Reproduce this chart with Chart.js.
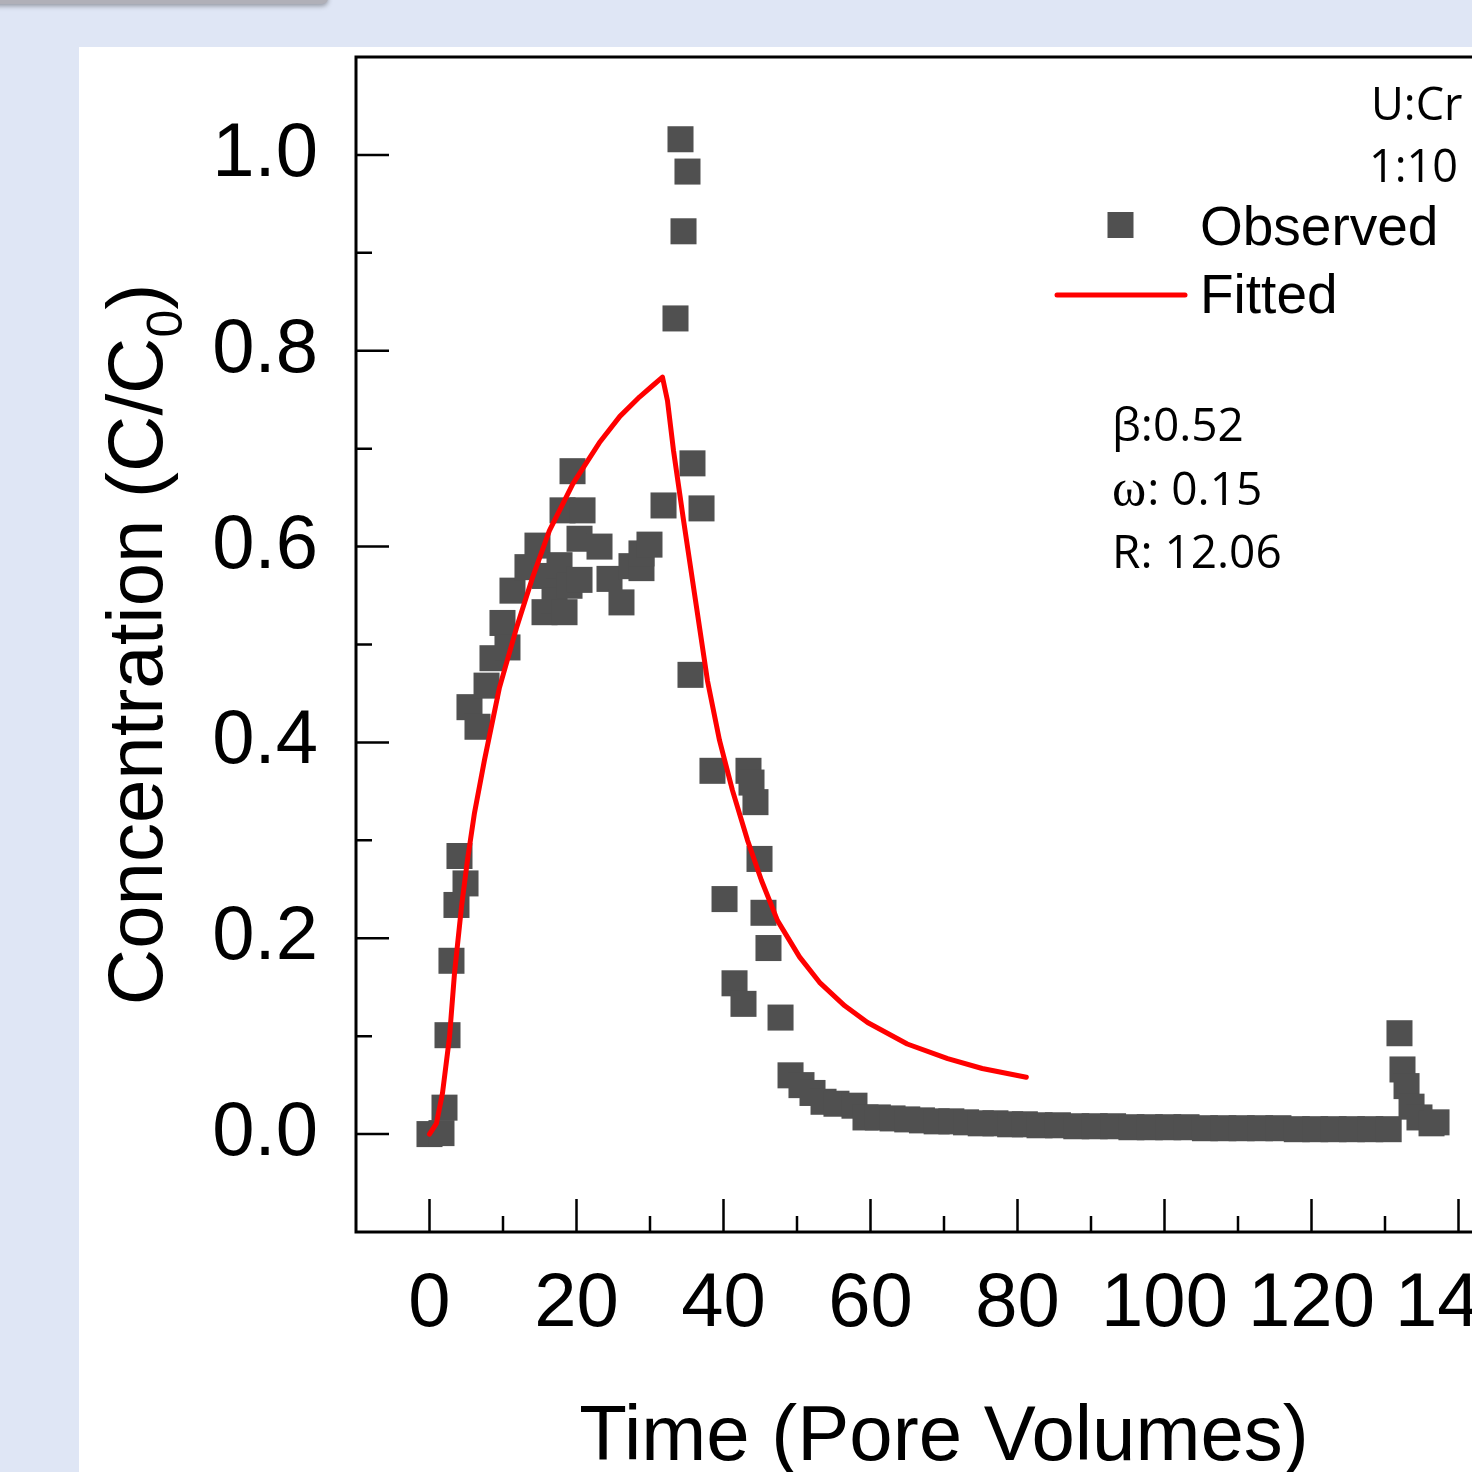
<!DOCTYPE html>
<html><head><meta charset="utf-8">
<script src="https://cdn.jsdelivr.net/npm/chart.js@4.4.0/dist/chart.umd.min.js"></script>
<style>
html,body{margin:0;padding:0;width:1472px;height:1472px;overflow:hidden;background:#dfe6f5;position:relative;}
#shadow{position:absolute;left:-10px;top:-8px;width:338px;height:12px;background:#b0b0b8;border-radius:0 0 6px 0;box-shadow:0 2px 5px rgba(0,0,0,0.35);}
#panel{position:absolute;left:79px;top:47px;width:1393px;height:1425px;background:#fff;}
#wrap{position:absolute;left:79px;top:47px;width:1500px;height:1425px;}
</style></head><body>
<div id="shadow"></div><div id="panel"></div>
<div id="wrap"><canvas id="c" width="1500" height="1425"></canvas></div>
<script>
// Observed data (pore volumes, C/C0)
const obsX = [0.0,1.63,2.04,2.45,2.99,3.67,4.08,4.90,5.44,6.53,7.76,8.57,9.93,10.61,11.29,13.33,14.69,15.65,15.65,17.01,17.69,18.10,18.37,19.05,19.46,20.41,20.41,20.82,23.13,24.49,26.12,27.48,28.84,28.84,29.93,31.84,33.47,34.15,34.56,35.10,35.51,35.78,37.01,38.50,40.14,41.50,42.72,43.40,43.81,44.35,44.90,45.44,46.12,47.76,49.12,50.61,52.11,53.61,55.37,57.82,59.32,61.0,63.0,65.0,67.0,69.0,71.0,73.0,75.0,77.0,79.0,81.0,83.0,85.5,88.0,90.5,93.0,95.5,98.0,100.5,103.0,105.5,108.0,110.5,113.0,115.5,118.0,120.5,123.0,125.5,128.0,130.5,131.97,132.38,132.93,133.61,134.69,136.33,137.01];
const obsY = [0.000,0.001,0.027,0.101,0.177,0.234,0.284,0.256,0.436,0.416,0.458,0.486,0.522,0.497,0.555,0.579,0.601,0.570,0.533,0.545,0.581,0.637,0.533,0.560,0.677,0.608,0.566,0.637,0.600,0.567,0.543,0.580,0.578,0.593,0.602,0.642,0.833,1.016,0.922,0.983,0.469,0.685,0.639,0.371,0.240,0.154,0.133,0.371,0.359,0.339,0.281,0.226,0.190,0.119,0.060,0.050,0.042,0.033,0.031,0.029,0.017,0.017,0.016,0.015,0.014,0.013,0.013,0.012,0.011,0.011,0.010,0.010,0.009,0.009,0.008,0.008,0.008,0.007,0.007,0.007,0.007,0.006,0.006,0.006,0.006,0.006,0.005,0.005,0.005,0.005,0.005,0.005,0.103,0.066,0.049,0.028,0.017,0.011,0.012];
// Fitted curve
const fitX = [0,0.95,1.77,2.72,3.4,4.35,5.17,6.12,7.48,9.52,11.84,14.0,16.3,19.5,23.1,25.9,28.6,30.3,31.7,32.38,33.2,34.56,36.19,37.82,39.46,41.22,43.27,45.17,47.35,50.34,53.06,56.5,59.6,65.0,70.5,75.2,81.2];
const fitY = [0,0.011,0.042,0.099,0.164,0.232,0.280,0.328,0.382,0.456,0.517,0.568,0.616,0.664,0.706,0.733,0.753,0.764,0.773,0.749,0.698,0.627,0.545,0.463,0.402,0.351,0.300,0.259,0.218,0.181,0.155,0.131,0.114,0.092,0.077,0.067,0.058];

const xMajorTicks = [0,20,40,60,80,100,120,140];
const xMinorTicks = [10,30,50,70,90,110,130];
const yMajorTicks = [0,0.2,0.4,0.6,0.8,1.0];
const yMinorTicks = [0.1,0.3,0.5,0.7,0.9];
const seriesNames = ['Observed','Fitted'];
const xTitle = 'Time (Pore Volumes)';
const yTitleMain = 'Concentration (C/C';
const yTitleSub = '0';
const yTitleEnd = ')';
const sampleLines = ['U:Cr','1:10'];
const paramBeta = 'β:0.52';
const paramOmegaSym = 'ω';
const paramOmegaVal = ': 0.15';
const paramR = 'R: 12.06';

const OBS_COLOR = '#505050';
const FIT_COLOR = '#ff0000';
const SANS = "'Liberation Sans', Arial, sans-serif";
const CAL = "'Open Sans', sans-serif";

const decor = {
  id: 'decor',
  afterDraw(chart) {
    const {ctx, chartArea: a, scales: {x, y}} = chart;
    ctx.save();
    ctx.strokeStyle = '#000';
    ctx.lineWidth = 3;
    ctx.strokeRect(a.left, a.top, a.right - a.left, a.bottom - a.top);
    ctx.lineWidth = 2.5;
    ctx.beginPath();
    yMajorTicks.forEach(v => { const p = y.getPixelForValue(v); ctx.moveTo(a.left, p); ctx.lineTo(a.left + 33, p); });
    yMinorTicks.forEach(v => { const p = y.getPixelForValue(v); ctx.moveTo(a.left, p); ctx.lineTo(a.left + 16, p); });
    xMajorTicks.forEach(v => { const p = x.getPixelForValue(v); ctx.moveTo(p, a.bottom); ctx.lineTo(p, a.bottom - 33); });
    xMinorTicks.forEach(v => { const p = x.getPixelForValue(v); ctx.moveTo(p, a.bottom); ctx.lineTo(p, a.bottom - 16); });
    ctx.stroke();

    ctx.fillStyle = '#000';
    const fMain = '78px ' + SANS, fSub = '50px ' + SANS;
    ctx.font = fMain;
    const w1 = ctx.measureText(yTitleMain).width;
    const w3 = ctx.measureText(yTitleEnd).width;
    ctx.font = fSub;
    const w2 = ctx.measureText(yTitleSub).width;
    const total = w1 + w2 + w3;
    const cy = (a.top + a.bottom) / 2;
    ctx.save();
    ctx.translate(83, cy + total / 2);
    ctx.rotate(-Math.PI / 2);
    ctx.textAlign = 'left';
    ctx.textBaseline = 'alphabetic';
    ctx.font = fMain; ctx.fillText(yTitleMain, 0, 0);
    ctx.font = fSub; ctx.fillText(yTitleSub, w1, 20);
    ctx.font = fMain; ctx.fillText(yTitleEnd, w1 + w2, 0);
    ctx.restore();

    ctx.fillStyle = OBS_COLOR;
    ctx.fillRect(1041.5 - 13, 178 - 13, 26, 26);
    ctx.strokeStyle = FIT_COLOR;
    ctx.lineWidth = 5;
    ctx.lineCap = 'round';
    ctx.beginPath(); ctx.moveTo(978, 248); ctx.lineTo(1106, 248); ctx.stroke();
    ctx.fillStyle = '#000';
    ctx.textAlign = 'left';
    ctx.textBaseline = 'alphabetic';
    ctx.font = '55px ' + SANS;
    ctx.fillText(seriesNames[0], 1121, 198);
    ctx.fillText(seriesNames[1], 1121, 266);

    ctx.font = '45px ' + CAL;
    ctx.fillText(sampleLines[0], 1292, 73);
    ctx.fillText(sampleLines[1], 1290, 135);

    ctx.font = '46px ' + CAL;
    ctx.fillText(paramBeta, 1033, 394);
    ctx.font = '52px ' + "'Liberation Serif', serif";
    ctx.fillText(paramOmegaSym, 1033, 458);
    const wo = ctx.measureText(paramOmegaSym).width;
    ctx.font = '46px ' + CAL;
    ctx.fillText(paramOmegaVal, 1033 + wo + 1, 458);
    ctx.fillText(paramR, 1033, 521);
    ctx.restore();
  }
};

new Chart(document.getElementById('c'), {
  type: 'scatter',
  data: {
    datasets: [
      {
        label: seriesNames[1], type: 'line',
        data: fitX.map((v, i) => ({x: v, y: fitY[i]})),
        borderColor: FIT_COLOR, borderWidth: 5, pointRadius: 0, tension: 0,
        fill: false, order: 0, borderCapStyle: 'round', borderJoinStyle: 'round'
      },
      {
        label: seriesNames[0],
        data: obsX.map((v, i) => ({x: v, y: obsY[i]})),
        pointStyle: 'rect', pointRadius: 18.4, pointHoverRadius: 18.4,
        backgroundColor: OBS_COLOR, borderWidth: 0, order: 1
      }
    ]
  },
  options: {
    responsive: false, animation: false, devicePixelRatio: 1, events: [],
    layout: {autoPadding: false, padding: {top: 10, right: 47, left: 0, bottom: 0}},
    plugins: {legend: {display: false}, tooltip: {enabled: false}},
    scales: {
      x: {
        type: 'linear', min: -10, max: 150,
        grid: {display: false, drawTicks: false}, border: {display: false},
        afterBuildTicks(s) { s.ticks = xMajorTicks.map(v => ({value: v})); },
        afterFit(s) { s.height = 240; s.paddingLeft = 0; s.paddingRight = 0; },
        ticks: {autoSkip: false, maxRotation: 0, padding: 27, color: '#000',
          font: {family: SANS, size: 76}, callback: v => String(v)},
        title: {display: true, text: xTitle, color: '#000',
          font: {family: SANS, size: 78, lineHeight: 1.2}, padding: {top: 0, bottom: -13}}
      },
      y: {
        type: 'linear', min: -0.1, max: 1.1,
        grid: {display: false, drawTicks: false}, border: {display: false},
        afterBuildTicks(s) { s.ticks = yMajorTicks.map(v => ({value: v})); },
        afterFit(s) { s.width = 277; s.paddingTop = 0; s.paddingBottom = 0; },
        ticks: {padding: 38, color: '#000', font: {family: SANS, size: 76},
          callback: v => Number(v).toFixed(1)}
      }
    }
  },
  plugins: [decor]
});
</script></body></html>
